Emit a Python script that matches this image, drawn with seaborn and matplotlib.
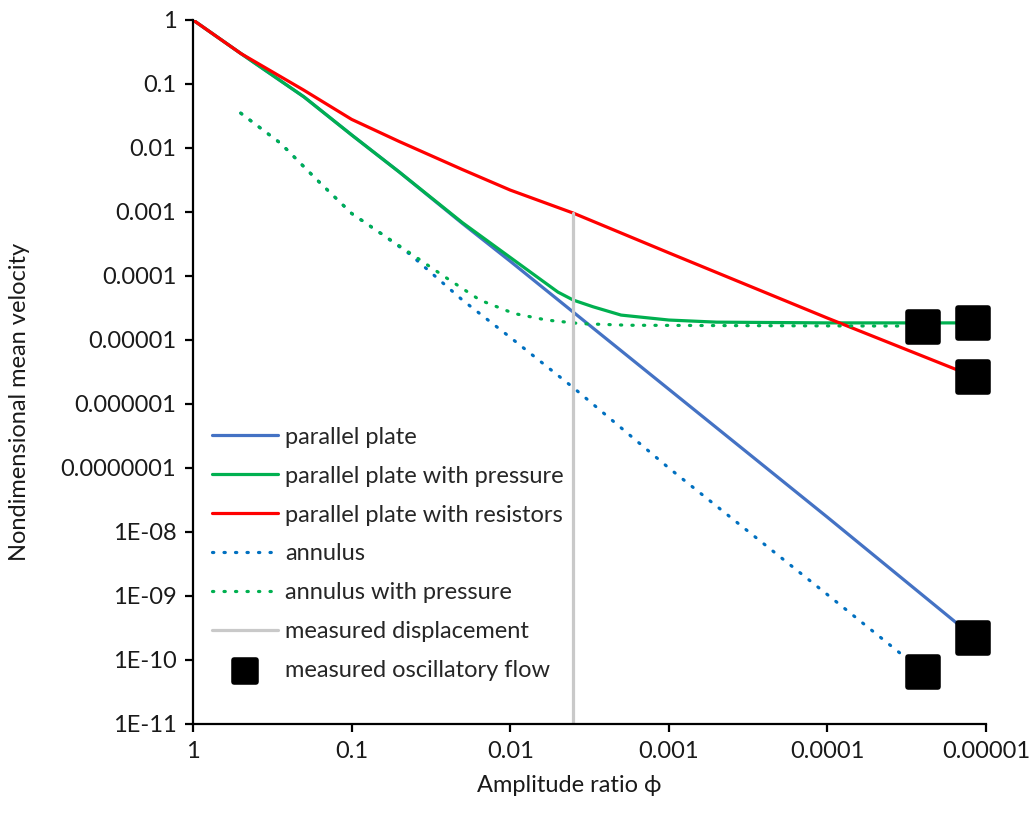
import matplotlib
matplotlib.use("Agg")
import matplotlib.pyplot as plt
import seaborn as sns

# values (log-log, x reversed)
pp_x = [1, 0.5, 0.2, 0.1, 0.05, 0.02, 0.01, 0.001, 0.0001, 1.2e-5]
pp_y = [1, 0.3, 0.063, 0.016, 0.0042, 6.6e-4, 1.7e-4, 1.7e-6, 1.7e-8, 2.3e-10]

ppp_x = [1, 0.5, 0.2, 0.1, 0.05, 0.02, 0.01, 0.005, 0.004, 0.003, 0.002, 0.001, 0.0005, 0.0001, 1.2e-5]
ppp_y = [1, 0.3, 0.063, 0.016, 0.0042, 6.8e-4, 1.95e-4, 5.6e-5, 4.2e-5, 3.3e-5, 2.45e-5, 2.05e-5, 1.9e-5, 1.85e-5, 1.85e-5]

ppr_x = [1, 0.5, 0.2, 0.1, 0.05, 0.02, 0.01, 0.004, 0.001, 0.0001, 1.2e-5]
ppr_y = [1, 0.3, 0.08, 0.028, 0.0126, 0.0046, 0.0022, 9.6e-4, 2.3e-4, 2.2e-5, 2.7e-6]

ann_x = [0.5, 0.28, 0.17, 0.1, 0.066, 0.043, 0.02, 0.01, 0.004, 0.001, 0.0001, 2.5e-5]
ann_y = [0.035, 0.0118, 3.4e-3, 9.5e-4, 4.7e-4, 2.2e-4, 4.2e-5, 1.1e-5, 1.8e-6, 1e-7, 1.05e-9, 6.6e-11]

annp_x = [0.5, 0.28, 0.17, 0.1, 0.066, 0.043, 0.026, 0.0155, 0.0095, 0.0059, 0.0036, 0.0018, 0.0005, 0.0001, 2.5e-5]
annp_y = [0.035, 0.0118, 3.4e-3, 9.5e-4, 4.7e-4, 2.3e-4, 9.8e-5, 4.2e-5, 2.6e-5, 2.05e-5, 1.8e-5, 1.7e-5, 1.68e-5, 1.66e-5, 1.65e-5]

disp_x = [0.004, 0.004]
disp_y = [1e-11, 9.6e-4]

meas_x = [2.5e-5, 1.2e-5, 1.2e-5, 1.2e-5, 2.5e-5]
meas_y = [1.6e-5, 1.85e-5, 2.6e-6, 2.2e-10, 6.6e-11]

xticks = [1, 0.1, 0.01, 0.001, 0.0001, 0.00001]
xlabels = ["1", "0.1", "0.01", "0.001", "0.0001", "0.00001"]
yticks = [1, 0.1, 0.01, 0.001, 1e-4, 1e-5, 1e-6, 1e-7, 1e-8, 1e-9, 1e-10, 1e-11]
ylabels = ["1", "0.1", "0.01", "0.001", "0.0001", "0.00001", "0.000001", "0.0000001",
           "1E-08", "1E-09", "1E-10", "1E-11"]

sns.set_style("white")
plt.rcParams['font.family'] = ['Lato', 'DejaVu Sans']

fig = plt.figure(figsize=(10.3, 8.26), dpi=100)
ax = fig.add_axes([0.1874, 0.1235, 0.7699, 0.8523])
ax.set_xscale('log')
ax.set_yscale('log')

fs = 17
lw = 2.3
dots = (0, (0.4, 3.2))
sns.lineplot(x=pp_x, y=pp_y, ax=ax, color="#4472C4", lw=lw, sort=False, estimator=None,
             label="parallel plate")
sns.lineplot(x=ppp_x, y=ppp_y, ax=ax, color="#00B050", lw=lw, sort=False, estimator=None,
             label="parallel plate with pressure")
sns.lineplot(x=ppr_x, y=ppr_y, ax=ax, color="#FF0000", lw=lw, sort=False, estimator=None,
             label="parallel plate with resistors")
sns.lineplot(x=ann_x, y=ann_y, ax=ax, color="#0070C0", lw=lw, sort=False, estimator=None,
             linestyle=dots, dash_capstyle='round', label="annulus")
sns.lineplot(x=annp_x, y=annp_y, ax=ax, color="#00B050", lw=lw, sort=False, estimator=None,
             linestyle=dots, dash_capstyle='round', label="annulus with pressure")
sns.lineplot(x=disp_x, y=disp_y, ax=ax, color="#C9C9C9", lw=lw, sort=False, estimator=None,
             label="measured displacement")
sns.scatterplot(x=meas_x, y=meas_y, ax=ax, marker='s', s=480, color="black",
                edgecolor="black", linewidth=4, joinstyle='round', zorder=5, clip_on=False,
                label="measured oscillatory flow")

ax.set_xlim(1, 1e-5)
ax.set_ylim(1e-11, 1)
ax.set_xticks(xticks)
ax.set_xticklabels(xlabels)
ax.set_yticks(yticks)
ax.set_yticklabels(ylabels)
ax.minorticks_off()

for s in ['top', 'right']:
    ax.spines[s].set_visible(False)
for s in ['left', 'bottom']:
    ax.spines[s].set_color('black')
    ax.spines[s].set_linewidth(1.6)
ax.tick_params(axis='both', which='major', direction='out', length=6, width=1.6,
               color='black', labelsize=fs, labelcolor='#1a1a1a', pad=6,
               left=True, bottom=True)

ax.set_xlabel("Amplitude ratio ϕ", fontsize=fs, color='#1a1a1a')
ax.set_ylabel("Nondimensional mean velocity", fontsize=fs, color='#1a1a1a')
ax.xaxis.set_label_coords(0.475, -0.072)
ax.yaxis.set_label_coords(-0.205, 0.457)

ax.legend(loc='upper left', bbox_to_anchor=(0.024, 0.4224), frameon=False, fontsize=fs,
          handlelength=2.8, handletextpad=0.3, labelspacing=0.76, borderaxespad=0,
          borderpad=0, markerscale=0.75)

fig.savefig("out.png", dpi=100)
